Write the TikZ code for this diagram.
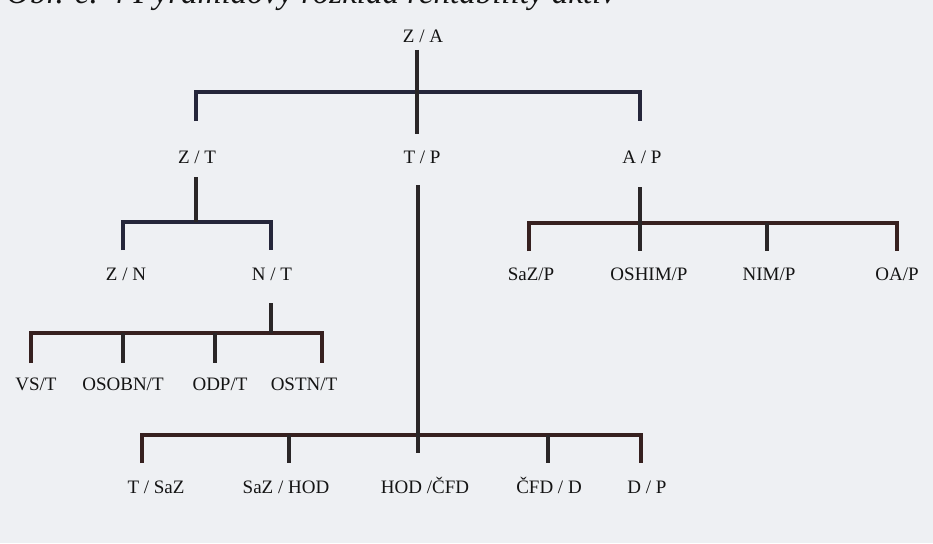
\documentclass[tikz,border=0pt]{standalone}
\usepackage{fontspec}
\setmainfont{Liberation Serif}
\definecolor{paper}{HTML}{EEF0F3}
\definecolor{ink}{HTML}{2A2627}
\definecolor{navyink}{HTML}{25263A}
\definecolor{brownink}{HTML}{36201F}
\begin{document}
\begin{tikzpicture}[x=1pt,y=-1pt,
  lbl/.style={anchor=base,inner sep=0pt,font=\fontsize{19}{19}\selectfont,text=black!92},
  wire/.style={draw=ink,line width=3.2pt},
  barnavy/.style={draw=navyink,line width=3.2pt},
  barbrown/.style={draw=brownink,line width=3.2pt}]
% page
\fill[paper] (0,0) rectangle (933,543);
\useasboundingbox (0,0) rectangle (933,543);
\clip (0,0) rectangle (933,543);

% caption, cut by the top edge
\node[anchor=base west,inner sep=0pt,font=\fontsize{33}{33}\selectfont\itshape,text=black!92] (cap) at (6,4)
  {Obr. č. 4 Pyramidový rozklad rentability aktiv};

% ---- labels ----
\node[lbl] (za) at (423,42) {Z / A};
\node[lbl] (zt) at (197,163) {Z / T};
\node[lbl] (tp) at (422,163) {T / P};
\node[lbl] (ap) at (642,163) {A / P};
\node[lbl] (zn) at (126,280) {Z / N};
\node[lbl] (nt) at (272,280) {N / T};
\node[lbl] (sazp) at (531,280) {SaZ/P};
\node[lbl] (oshimp) at (649,280) {OSHIM/P};
\node[lbl] (nimp) at (769,280) {NIM/P};
\node[lbl] (oap) at (897,280) {OA/P};
\node[lbl] (vst) at (36,390) {VS/T};
\node[lbl] (osobnt) at (123,390) {OSOBN/T};
\node[lbl] (odpt) at (220,390) {ODP/T};
\node[lbl] (ostnt) at (304,390) {OSTN/T};
\node[lbl] (tsaz) at (156,493) {T / SaZ};
\node[lbl] (sazhod) at (286,493) {SaZ / HOD};
\node[lbl] (hodcfd) at (425,493) {HOD /ČFD};
\node[lbl] (cfdd) at (549,493) {ČFD / D};
\node[lbl] (dp) at (647,493) {D / P};

% ---- junction points ----
% level 1
\coordinate (za-s) at (417,50);
\coordinate (za-e) at (417,134);
\coordinate (b1-l) at (196,92);
\coordinate (b1-r) at (640,92);
\coordinate (zt-n) at (196,121);
\coordinate (ap-n) at (640,121);
% Z / T branch
\coordinate (zt-s) at (196,177);
\coordinate (b2-m) at (196,222);
\coordinate (b2-l) at (123,222);
\coordinate (b2-r) at (271,222);
\coordinate (zn-n) at (123,250);
\coordinate (nt-n) at (271,250);
% A / P branch
\coordinate (ap-s) at (640,187);
\coordinate (b3-l) at (529,223);
\coordinate (b3-r) at (897,223);
\coordinate (b3-m) at (767,223);
\coordinate (sazp-n) at (529,251);
\coordinate (oshimp-n) at (640,251);
\coordinate (nimp-n) at (767,251);
\coordinate (oap-n) at (897,251);
% N / T branch
\coordinate (nt-s) at (271,303);
\coordinate (b4-m) at (271,333);
\coordinate (b4-l) at (31,333);
\coordinate (b4-r) at (322,333);
\coordinate (b4-a) at (123,333);
\coordinate (b4-b) at (215,333);
\coordinate (vst-n) at (31,363);
\coordinate (osobnt-n) at (123,363);
\coordinate (odpt-n) at (215,363);
\coordinate (ostnt-n) at (322,363);
% T / P branch
\coordinate (tp-s) at (418,185);
\coordinate (tp-e) at (418,453);
\coordinate (b5-l) at (142,435);
\coordinate (b5-r) at (641,435);
\coordinate (b5-a) at (289,435);
\coordinate (b5-b) at (548,435);
\coordinate (tsaz-n) at (142,463);
\coordinate (sazhod-n) at (289,463);
\coordinate (cfdd-n) at (548,463);
\coordinate (dp-n) at (641,463);

% ---- connectors ----
\draw[barnavy] (zt-n) -- (b1-l) -- (b1-r) -- (ap-n);
\draw[wire] (za-s) -- (za-e);

\draw[barnavy] (zn-n) -- (b2-l) -- (b2-r) -- (nt-n);
\draw[wire] (zt-s) -- (b2-m);

\draw[barbrown] (sazp-n) -- (b3-l) -- (b3-r) -- (oap-n);
\draw[wire] (ap-s) -- (oshimp-n);
\draw[wire] (b3-m) -- (nimp-n);

\draw[barbrown] (vst-n) -- (b4-l) -- (b4-r) -- (ostnt-n);
\draw[wire] (nt-s) -- (b4-m);
\draw[wire] (b4-a) -- (osobnt-n);
\draw[wire] (b4-b) -- (odpt-n);

\draw[barbrown] (tsaz-n) -- (b5-l) -- (b5-r) -- (dp-n);
\draw[wire] (tp-s) -- (tp-e);
\draw[wire] (b5-a) -- (sazhod-n);
\draw[wire] (b5-b) -- (cfdd-n);
\end{tikzpicture}
\end{document}
